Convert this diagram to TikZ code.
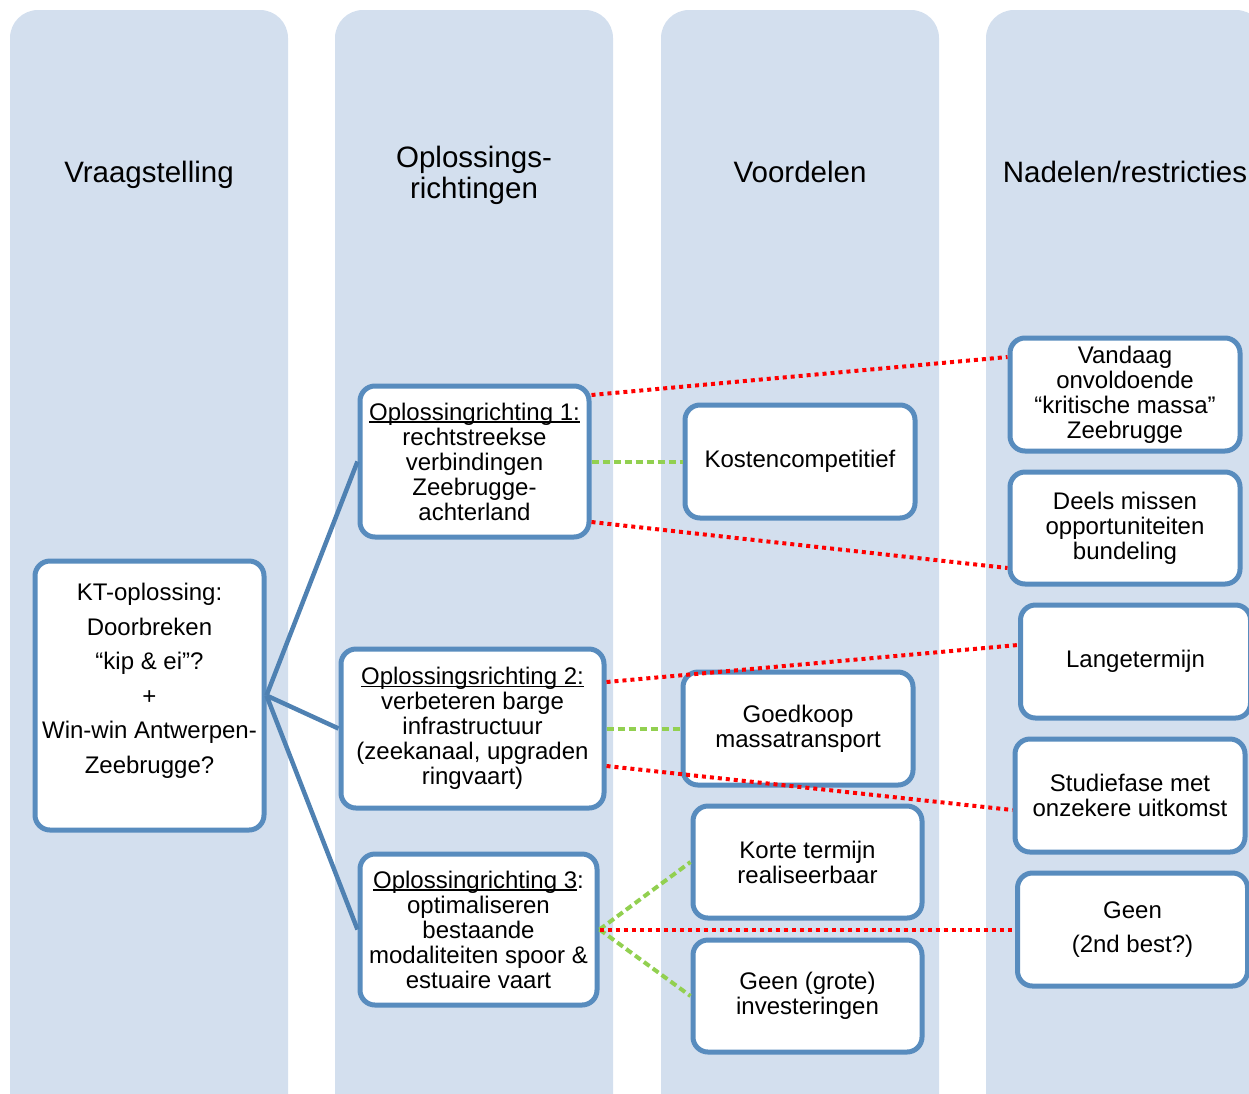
\documentclass[tikz,border=0pt]{standalone}
\usepackage{fontspec}
\setmainfont{Liberation Sans}
\usetikzlibrary{calc}
\definecolor{lanefill}{RGB}{211,223,238}
\definecolor{boxline}{RGB}{88,140,190}
\definecolor{linkblue}{RGB}{79,129,178}
\definecolor{prolink}{RGB}{146,208,80}
\newcommand{\opline}[1]{\setbox0\hbox{#1}\rlap{\rule[-2.5pt]{\wd0}{1.3pt}}\box0}

\begin{document}
\begin{tikzpicture}[x=1pt,y=-1pt]
    \tikzset{
        lane/.style={fill=lanefill, rounded corners=28pt},
        head/.style={font=\fontsize{29.5}{31}\selectfont, align=center},
        box/.style={draw=boxline, fill=white, line width=5pt, rounded corners=15pt,
            align=center, inner sep=0pt, font=\fontsize{24}{25}\selectfont},
        line/.style={draw=linkblue, line width=4.5pt},
        pro/.style={draw=prolink, line width=4pt, dash pattern=on 7pt off 4pt},
        con/.style={draw=red, line width=4pt, dash pattern=on 4pt off 4pt},
    };
    \useasboundingbox (0,0) rectangle (1249,1093);
    \clip (0,0) rectangle (1249,1093);

    % columns
    \fill [lane] (10,10) rectangle (288,1130);
    \fill [lane] (335,10) rectangle (613,1130);
    \fill [lane] (661,10) rectangle (939,1130);
    \fill [lane] (986,10) rectangle (1264,1130);

    \node [head] (vraag) at (149,175) {Vraagstelling};
    \node [head] (oplos) at (474,175) {Oplossings-\\richtingen};
    \node [head] (voor) at (800,172) {Voordelen};
    \node [head] (nadel) at (1125,172) {Nadelen/restricties};

    % question
    \node [box,minimum width=229,minimum height=269,font=\fontsize{24}{34.5}\selectfont] (kt) at (149.5,695.5)
        {KT-oplossing:\\Doorbreken\\ “kip \& ei”?\\+\\Win-win Antwerpen-\\Zeebrugge?\\\mbox{}};

    % solutions
    \node [box,minimum width=229,minimum height=151] (opl1) at (474.5,461.5)
        {\opline{Oplossingrichting 1:}\\rechtstreekse\\verbindingen\\Zeebrugge-\\achterland};
    \node [box,minimum width=263,minimum height=159] (opl2) at (472.5,728.5)
        {\opline{Oplossingsrichting 2:}\\verbeteren barge\\infrastructuur\\(zeekanaal, upgraden\\ringvaart)};
    \node [box,minimum width=237,minimum height=151] (opl3) at (478.5,929.5)
        {\opline{Oplossingrichting 3}:\\optimaliseren\\bestaande\\modaliteiten spoor \&\\estuaire vaart};

    % pros
    \node [box,minimum width=230,minimum height=113] (kosten) at (800,461.5) {Kostencompetitief};
    \node [box,minimum width=230,minimum height=113] (goedkoop) at (798,728.5) {Goedkoop\\massatransport};
    \node [box,minimum width=229,minimum height=112] (korte) at (807.5,862) {Korte termijn\\realiseerbaar};
    \node [box,minimum width=229,minimum height=112] (geengrote) at (807.5,996) {Geen (grote)\\investeringen};

    % cons
    \node [box,minimum width=230,minimum height=113] (vandaag) at (1125,394.5)
        {Vandaag\\onvoldoende\\“kritische massa”\\Zeebrugge};
    \node [box,minimum width=230,minimum height=112] (deels) at (1125,528)
        {Deels missen\\opportuniteiten\\bundeling};
    \node [box,minimum width=230,minimum height=113] (lange) at (1135.5,661.5) {Langetermijn};
    \node [box,minimum width=230,minimum height=113] (studie) at (1130,795.5)
        {Studiefase met\\onzekere uitkomst};
    \node [box,minimum width=230,minimum height=113,font=\fontsize{24}{34}\selectfont] (geen) at (1132.5,929.5)
        {Geen\\(2nd best?)};

    \path [line] (kt.east)--(opl1.west);
    \path [line] (kt.east)--(opl2.west);
    \path [line] (kt.east)--(opl3.west);

    \path [pro] (opl1.east)--(kosten.west);
    \path [pro] (opl2.east)--(goedkoop.west);
    \path [pro] (opl3.east)--(korte.west);
    \path [pro] (opl3.east)--(geengrote.west);

    \path [con] ($(opl1.east)+(0,-66.5)$)--($(vandaag.west)+(0,-37.5)$);
    \path [con] ($(opl1.east)+(0,60.5)$)--($(deels.west)+(0,40)$);
    \path [con] ($(opl2.east)+(0,-46.5)$)--($(lange.west)+(0,-16.5)$);
    \path [con] ($(opl2.east)+(0,37.5)$)--($(studie.west)+(0,14.5)$);
    \path [con] (opl3.east)--(geen.west);
\end{tikzpicture}
\end{document}
